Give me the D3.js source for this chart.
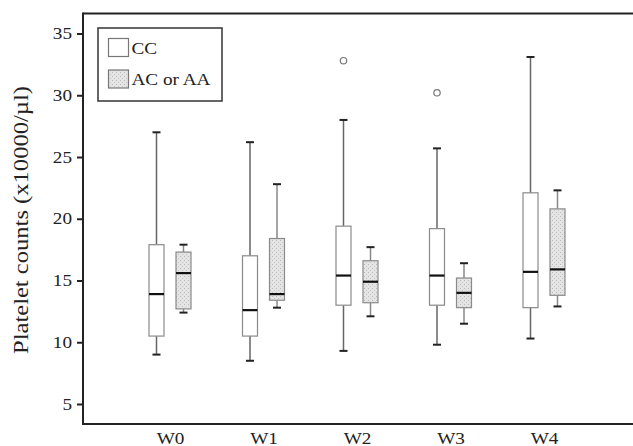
<!DOCTYPE html>
<html>
<head>
<meta charset="utf-8">
<script src="https://cdn.jsdelivr.net/npm/d3@7/dist/d3.min.js"></script>
<style>
  html, body { margin: 0; padding: 0; background: #fff; }
  svg { display: block; }
  text { font-family: "Liberation Serif", "DejaVu Serif", serif; fill: #222; }
</style>
</head>
<body>
<svg id="chart" width="633" height="446"></svg>
<script>
// Weeks on the x axis
const weeks = ["W0", "W1", "W2", "W3", "W4"];
// Genotype groups
const groups = ["CC", "AC or AA"];
// Five-number summaries per week: [lower whisker, Q1, median, Q3, upper whisker]
const ccStats = [
  [9.0, 10.5, 13.9, 17.9, 27.0],
  [8.5, 10.5, 12.6, 17.0, 26.2],
  [9.3, 13.0, 15.4, 19.4, 28.0],
  [9.8, 13.0, 15.4, 19.2, 25.7],
  [10.3, 12.8, 15.7, 22.1, 33.1]
];
const acStats = [
  [12.4, 12.7, 15.6, 17.3, 17.9],
  [12.8, 13.4, 13.9, 18.4, 22.8],
  [12.1, 13.2, 14.9, 16.6, 17.7],
  [11.5, 12.8, 14.0, 15.2, 16.4],
  [12.9, 13.8, 15.9, 20.8, 22.3]
];
// Outlying values: [week, group index, value]
const outliers = [
  ["W2", 0, 32.8],
  ["W3", 0, 30.2]
];
const yTicks = [5, 10, 15, 20, 25, 30, 35];

const svg = d3.select("#chart");
const plotLeft = 83, plotTop = 13.5, plotBottom = 424, plotRight = 640;
const FONT = '"Liberation Serif", "DejaVu Serif", serif';
const widen = 1.2; // labels are set slightly wide

const y = d3.scaleLinear().domain([3.38, 36.62]).range([plotBottom, plotTop]);
const x = d3.scalePoint().domain(weeks).range([170, 544]);
const offset = d3.scaleOrdinal().domain(groups).range([-13.5, 13.5]);
const boxW = 15, capW = 8;

const series = [
  { name: groups[0], stats: ccStats, fill: "#ffffff", stroke: "#8a8a8a", whisker: "#666" },
  { name: groups[1], stats: acStats, fill: "#dcdcdc", stroke: "#8a8a8a", whisker: "#888" }
];

function stretch(sel) {
  sel.each(function () {
    const w = this.getComputedTextLength();
    d3.select(this).attr("textLength", w * widen).attr("lengthAdjust", "spacingAndGlyphs");
  });
}

// stipple pattern for the shaded group
const defs = svg.append("defs");
const pat = defs.append("pattern").attr("id", "stipple")
  .attr("width", 4).attr("height", 4).attr("patternUnits", "userSpaceOnUse");
pat.append("rect").attr("width", 4).attr("height", 4).attr("fill", "#e4e4e4");
pat.append("rect").attr("x", 0).attr("y", 0).attr("width", 1).attr("height", 1).attr("fill", "#bababa");
pat.append("rect").attr("x", 2).attr("y", 2).attr("width", 1).attr("height", 1).attr("fill", "#c6c6c6");
series[1].fill = "url(#stipple)";

// y axis
const yAxis = svg.append("g").attr("transform", `translate(${plotLeft},0)`)
  .call(d3.axisLeft(y).tickValues(yTicks).tickSize(6).tickPadding(5));
yAxis.select(".domain").remove();
yAxis.selectAll(".tick line").attr("stroke", "#222").attr("stroke-width", 2);
yAxis.selectAll(".tick text").attr("font-size", 16).attr("fill", "#222")
  .style("font-family", FONT).call(stretch);

// x axis labels
const xAxis = svg.append("g").attr("transform", `translate(0,${plotBottom})`)
  .call(d3.axisBottom(x).tickSize(0));
xAxis.select(".domain").remove();
xAxis.selectAll(".tick text").attr("font-size", 16).attr("fill", "#222")
  .attr("y", 19.5).attr("dy", 0)
  .style("font-family", FONT).call(stretch);

// frame lines
svg.append("line").attr("x1", plotLeft).attr("x2", plotRight).attr("y1", plotTop).attr("y2", plotTop)
  .attr("stroke", "#222").attr("stroke-width", 2);
svg.append("line").attr("x1", plotLeft).attr("x2", plotRight).attr("y1", plotBottom).attr("y2", plotBottom)
  .attr("stroke", "#222").attr("stroke-width", 2);
svg.append("line").attr("x1", plotLeft).attr("x2", plotLeft).attr("y1", plotTop - 1).attr("y2", plotBottom + 1)
  .attr("stroke", "#222").attr("stroke-width", 2);

// y axis title
svg.append("text")
  .attr("transform", `translate(28,220) rotate(-90)`)
  .attr("text-anchor", "middle")
  .attr("font-size", 21)
  .attr("textLength", 268).attr("lengthAdjust", "spacingAndGlyphs")
  .text("Platelet counts (x10000/\u00b5l)");

// boxes
series.forEach(s => {
  const g = svg.append("g");
  weeks.forEach((w, i) => {
    const [lo, q1, med, q3, hi] = s.stats[i];
    const cx = x(w) + offset(s.name);
    g.append("line").attr("x1", cx).attr("x2", cx).attr("y1", y(hi)).attr("y2", y(q3))
      .attr("stroke", s.whisker).attr("stroke-width", 1.5);
    g.append("line").attr("x1", cx).attr("x2", cx).attr("y1", y(q1)).attr("y2", y(lo))
      .attr("stroke", s.whisker).attr("stroke-width", 1.5);
    [hi, lo].forEach(v => g.append("line")
      .attr("x1", cx - capW / 2).attr("x2", cx + capW / 2).attr("y1", y(v)).attr("y2", y(v))
      .attr("stroke", "#222").attr("stroke-width", 2));
    g.append("rect").attr("x", cx - boxW / 2).attr("y", y(q3))
      .attr("width", boxW).attr("height", y(q1) - y(q3))
      .attr("fill", s.fill).attr("stroke", s.stroke).attr("stroke-width", 1.2);
    g.append("line").attr("x1", cx - boxW / 2).attr("x2", cx + boxW / 2)
      .attr("y1", y(med)).attr("y2", y(med))
      .attr("stroke", "#111").attr("stroke-width", 2.2);
  });
});

// outliers
svg.selectAll("circle.out").data(outliers).join("circle")
  .attr("class", "out")
  .attr("cx", d => x(d[0]) + offset(groups[d[1]]))
  .attr("cy", d => y(d[2]))
  .attr("r", 3.2)
  .attr("fill", "none").attr("stroke", "#777").attr("stroke-width", 1.2);

// legend
const lg = svg.append("g");
lg.append("rect").attr("x", 98).attr("y", 28).attr("width", 124).attr("height", 73)
  .attr("fill", "#fff").attr("stroke", "#333").attr("stroke-width", 1.5);
series.forEach((s, i) => {
  const yy = 38.5 + i * 31.5;
  lg.append("rect").attr("x", 108.5).attr("y", yy).attr("width", 20).attr("height", 18)
    .attr("fill", s.fill).attr("stroke", "#777").attr("stroke-width", 1.2);
  lg.append("text").attr("x", 131.5).attr("y", yy + 15).attr("font-size", 16)
    .style("font-family", FONT).text(s.name).call(stretch);
});
</script>
</body>
</html>
